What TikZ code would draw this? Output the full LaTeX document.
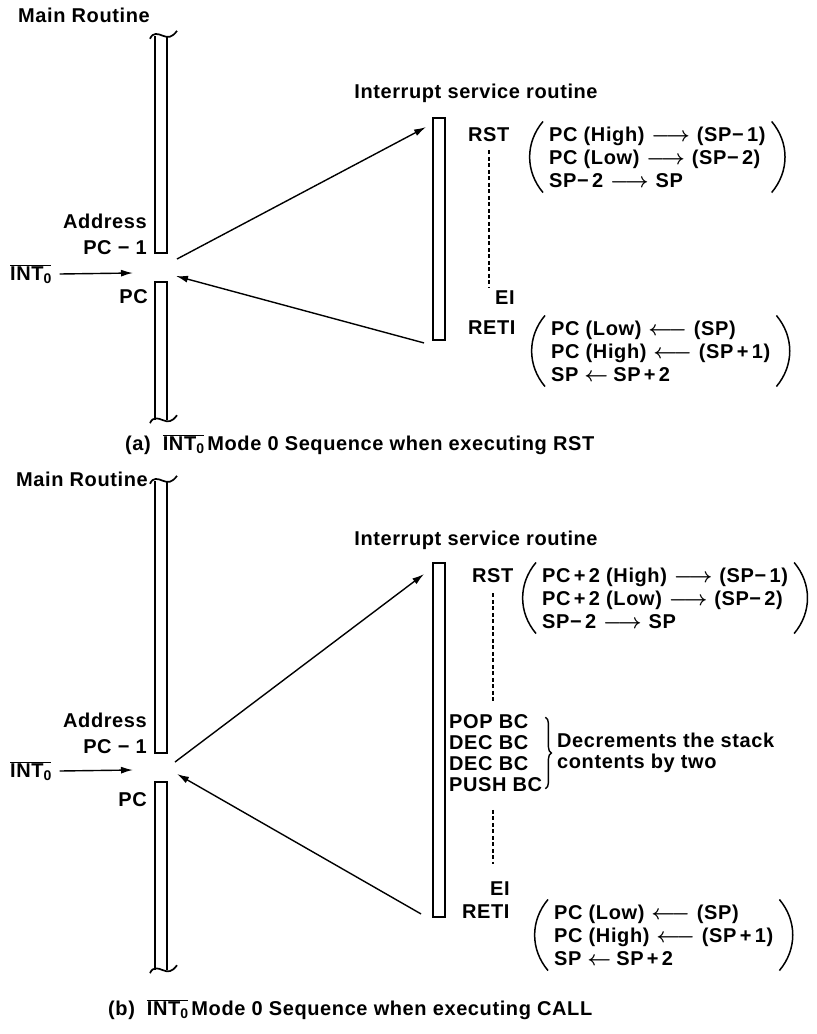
\documentclass[tikz,border=0pt]{standalone}
\usepackage{fontspec}
\setmainfont{Liberation Sans}[LetterSpace=3]
\usetikzlibrary{arrows.meta,positioning,calc,decorations.pathreplacing}
\newcommand{\lbl}{\fontsize{20}{21}\selectfont\bfseries}
\newcommand{\intz}{$\overline{\mbox{INT\raisebox{-.3ex}{\fontsize{14}{14}\selectfont 0}}}$}
\newcommand{\ra}{\hspace{7pt}{\boldmath$\longrightarrow$}\hspace{7pt}}
\newcommand{\la}{\hspace{7pt}{\boldmath$\longleftarrow$}\hspace{7pt}}
\newcommand{\sla}{\hspace{6pt}{\boldmath$\leftarrow$}\hspace{5pt}}

\begin{document}
\begin{tikzpicture}[x=1pt,y=-1pt,
  every node/.style={font=\lbl,inner sep=0pt},
  barbox/.style={minimum width=12pt},
  barline/.style={line width=1.9pt},
  isr/.style={draw,line width=1.9pt,minimum width=12pt},
  arr/.style={-{Latex[length=12pt,width=7pt]},line width=1.4pt},
  dashln/.style={line width=1.5pt,dash pattern=on 4pt off 2.5pt},
  grp/.style={align=left,inner xsep=6pt,inner ysep=5pt,font=\fontsize{20}{23}\selectfont\bfseries},
  paren/.style={line width=1.5pt},
  brc/.style={line width=1.4pt,decorate,decoration={brace,amplitude=6pt}},
  brk/.pic={\draw[line width=1.7pt] (-11,3) .. controls (-8,-4) and (-3,-2) .. (2,0) .. controls (7,2) and (11,2) .. (16,-5);}
]
\useasboundingbox (0,0) rectangle (817,1034);

% (a) RST
\node[anchor=west] (mainA) at (18,15) {Main Routine};
\node[barbox,minimum height=217pt] (mrA1) at (161,144.5) {};
\node[barbox,minimum height=138pt] (mrA2) at (161,351) {};
\node[anchor=east,align=right] (addrA) at (147,234) {Address\\[5pt]PC − 1};
\node[anchor=west] (intA) at (10,274) {\intz};
\node[anchor=east] (pcA) at (148,297) {PC};
\coordinate (gA) at (133,273);
\coordinate (outA) at (177,259);
\coordinate (retA) at (176,276);

\node (isrlblA) at (476,93) {Interrupt service routine};
\node[isr,minimum height=222pt] (isrA) at (439,229) {};
\node[anchor=west] (rstA) at (468,135) {RST};
\node[anchor=west] (eiA) at (495,298) {EI};
\node[anchor=west] (retiA) at (468,328) {RETI};
\node[grp,anchor=west] (saveA) at (543,157)
  {PC (High)\ra(SP−\,1)\\PC (Low)\ra(SP−\,2)\\SP−\,2\ra SP};
\node[grp,anchor=west] (restA) at (545,351)
  {PC (Low)\la(SP)\\PC (High)\la(SP\,+\,1)\\SP\sla SP\,+\,2};

\draw[arr] ([xshift=8pt]intA.east) -- (gA);
\draw[arr] (outA) -- ([shift={(-6,10)}]isrA.north west);
\draw[arr] ([shift={(-8,2)}]isrA.south west) -- (retA);
\draw[dashln,shorten <=8pt,shorten >=3pt] (rstA.south) -- (rstA.south |- eiA.north);

\node[anchor=west] (capA) at (125,445) {(a)\hspace{12pt}\intz\,Mode 0 Sequence when executing RST};

% (b) CALL
\node[anchor=west] (mainB) at (16,479) {Main Routine};
\node[barbox,minimum height=272pt] (mrB1) at (161,617) {};
\node[barbox,minimum height=188pt] (mrB2) at (161,876) {};
\node[anchor=east,align=right] (addrB) at (147,733) {Address\\[5pt]PC − 1};
\node[anchor=west] (intB) at (10,771) {\intz};
\node[anchor=east] (pcB) at (147,800) {PC};
\coordinate (gB) at (133,770);
\coordinate (outB) at (175,762);
\coordinate (retB) at (177,774);

\node (isrlblB) at (476,540) {Interrupt service routine};
\node[isr,minimum height=354pt] (isrB) at (439,740) {};
\node[anchor=west] (rstB) at (472,576) {RST};
\node[anchor=west,align=left] (popB) at (449,753) {POP BC\\DEC BC\\DEC BC\\PUSH BC};
\node[anchor=west,align=left] (decB) at (557,753) {Decrements the stack\\contents by two};
\node[anchor=west] (eiB) at (490,889) {EI};
\node[anchor=west] (retiB) at (462,912) {RETI};
\node[grp,anchor=west] (saveB) at (536,598)
  {PC\,+\,2 (High)\ra(SP−\,1)\\PC\,+\,2 (Low)\ra(SP−\,2)\\SP−\,2\ra SP};
\node[grp,anchor=west] (restB) at (548,935)
  {PC (Low)\la(SP)\\PC (High)\la(SP\,+\,1)\\SP\sla SP\,+\,2};

\draw[arr] ([xshift=8pt]intB.east) -- (gB);
\draw[arr] (outB) -- ([shift={(-8,12)}]isrB.north west);
\draw[arr] ([shift={(-11,-4)}]isrB.south west) -- (retB);
\draw[dashln,shorten <=10pt,shorten >=12pt] (rstB.south) -- (rstB.south |- popB.north);
\draw[dashln,shorten <=18pt,shorten >=18pt] (rstB.south |- popB.south) -- (rstB.south |- eiB.north);
\draw[brc] ([xshift=3pt,yshift=-3pt]popB.north east) -- ([xshift=3pt,yshift=3pt]popB.south east);

\node[anchor=west] (capB) at (108,1010) {(b)\hspace{12pt}\intz\,Mode 0 Sequence when executing CALL};

\foreach \b in {mrA1,mrB1}
  \draw[barline] (\b.north west) |- (\b.south) -| (\b.north east);
\foreach \b in {mrA2,mrB2}
  \draw[barline] (\b.south west) |- (\b.north) -| (\b.south east);
\foreach \b in {mrA1,mrB1} \pic at (\b.north) {brk};
\foreach \b in {mrA2,mrB2} \pic at (\b.south) {brk};
\foreach \g in {saveA,restA,saveB,restB} {
  \draw[paren] (\g.north west) to[bend right=40] (\g.south west);
  \draw[paren] (\g.north east) to[bend left=40] (\g.south east);
}
\end{tikzpicture}
\end{document}
